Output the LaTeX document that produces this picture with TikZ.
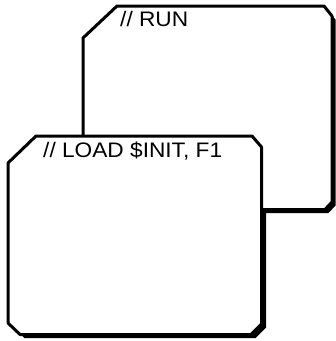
\documentclass[tikz,border=0pt]{standalone}
\usepackage{fontspec}
\setmainfont{Liberation Sans}
\newcommand\backshape[1]{\path[#1] (83,38) -- (117,6) -- (324,6) -- (332,16) -- (332,202) -- (325,209.5) -- (83,209.5) -- cycle;}
\newcommand\frontshape[1]{\path[#1] (8,163) -- (36,136) -- (252,136) -- (261.5,147) -- (261.5,324) -- (251,334.5) -- (20,334.5) -- (8,323) -- cycle;}
\begin{document}
\begin{tikzpicture}[x=1pt,y=-1pt,
  cardline/.style={draw=black, line width=3pt, line join=round, fill=white},
  shadowfill/.style={fill=black, line join=round},
  cardtext/.style={anchor=base west, inner sep=0pt, font=\fontsize{21}{25}\selectfont}]
\fill[white] (0,0) rectangle (336,341);
\useasboundingbox (0,0) rectangle (336,341);
\backshape{shadowfill, shift={(3.5,3.5)}}
\frontshape{shadowfill, shift={(4.5,3.5)}}
\backshape{cardline}
\frontshape{cardline}
\node[cardtext] (run) at (120,26) {\scalebox{1.08}[1]{// RUN}};
\node[cardtext] (load) at (43,157) {\scalebox{1.08}[1]{// LOAD \$INIT, F1}};
\end{tikzpicture}
\end{document}
